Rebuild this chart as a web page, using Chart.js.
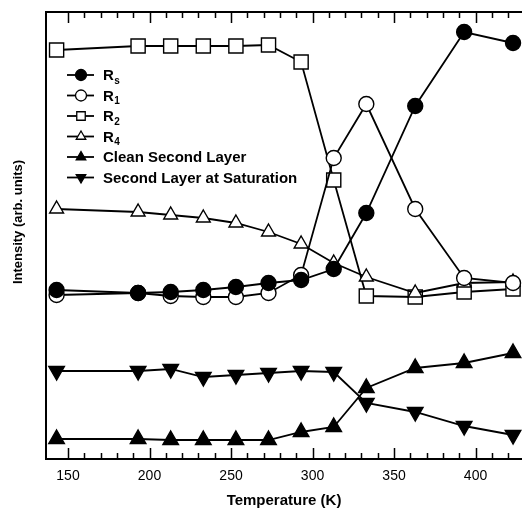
<!DOCTYPE html>
<html>
<head>
<meta charset="utf-8">
<script src="https://cdn.jsdelivr.net/npm/chart.js@4.4.1/dist/chart.umd.min.js"></script>
<style>
  html, body { margin: 0; padding: 0; background: #fff; }
  #wrap { width: 522px; height: 510px; }
</style>
</head>
<body>
<div id="wrap"><canvas id="chart" width="522" height="510"></canvas></div>
<script>
// temperatures (K) where the spectra were taken
const temps = [143, 193, 213, 233, 253, 273, 293, 313, 333, 363, 393, 423];

// intensities, arbitrary units
const rS = [169, 166, 167, 169, 172, 176, 179, 190, 246, 353, 427, 416];
const r1 = [164, 166, 163, 162, 162, 166, 184, 301, 355, 250, 181, 176];
const r2 = [409, 413, 413, 413, 413, 414, 397, 279, 163, 162, 167, 170];
const r4 = [250, 247, 244, 241, 236, 227, 215, 196, 182, 166, 176, 177];
const cleanLayer = [20, 20, 19, 19, 19, 19, 27, 32, 71, 91, 96, 106];
const saturated = [88, 88, 90, 82, 84, 86, 88, 87, 56, 47, 33, 24];

const labels = ['R_s', 'R_1', 'R_2', 'R_4', 'Clean Second Layer', 'Second Layer at Saturation'];
const xTicks = [150, 200, 250, 300, 350, 400];

const FONT = '"Liberation Sans", Arial, Helvetica, sans-serif';

function pts(values) {
  return values.map((v, i) => ({ x: temps[i], y: v }));
}

function series(label, values, style, filled, size, rotation) {
  return {
    label,
    data: pts(values),
    borderColor: '#000',
    borderWidth: 1.8,
    pointStyle: style,
    pointRotation: rotation || 0,
    pointRadius: size,
    pointBorderWidth: 1.4,
    pointBorderColor: '#000',
    pointBackgroundColor: filled ? '#000' : '#fff',
    tension: 0,
    fill: false,
    clip: false,
  };
}

// lower index is drawn on top
const datasets = [
  series(labels[0], rS, 'circle', true, 7.5),
  series(labels[1], r1, 'circle', false, 7.5),
  series(labels[3], r4, 'triangle', false, 8),
  series(labels[2], r2, 'rect', false, 10),
  series(labels[4], cleanLayer, 'triangle', true, 9),
  series(labels[5], saturated, 'triangle', true, 9, 180),
];

// legend order as in the figure
const legendOrder = [0, 1, 3, 2, 4, 5];

function drawLabel(ctx, text, x, y) {
  const parts = text.split('_');
  ctx.fillStyle = '#000';
  ctx.textBaseline = 'middle';
  ctx.textAlign = 'left';
  ctx.font = 'bold 15px ' + FONT;
  ctx.fillText(parts[0], x, y);
  if (parts[1]) {
    const w = ctx.measureText(parts[0]).width;
    ctx.font = 'bold 10px ' + FONT;
    ctx.fillText(parts[1], x + w + 0.5, y + 5);
  }
}

const framePlugin = {
  id: 'frame',
  afterDraw(chart) {
    const { ctx, chartArea } = chart;
    const xs = chart.scales.x;
    ctx.save();
    ctx.strokeStyle = '#000';
    ctx.lineWidth = 2;

    // top border
    ctx.beginPath();
    ctx.moveTo(chartArea.left, chartArea.top);
    ctx.lineTo(chartArea.right, chartArea.top);
    ctx.stroke();

    // inward ticks, top and bottom
    ctx.lineWidth = 1.5;
    for (let t = 150; t <= 420; t += 10) {
      const px = Math.round(xs.getPixelForValue(t)) + 0.5;
      const len = t % 50 === 0 ? 11 : 6;
      ctx.beginPath();
      ctx.moveTo(px, chartArea.bottom);
      ctx.lineTo(px, chartArea.bottom - len);
      ctx.moveTo(px, chartArea.top);
      ctx.lineTo(px, chartArea.top + len);
      ctx.stroke();
    }

    // y axis title
    ctx.save();
    ctx.translate(18, 222);
    ctx.rotate(-Math.PI / 2);
    ctx.font = 'bold 13px ' + FONT;
    ctx.fillStyle = '#000';
    ctx.textAlign = 'center';
    ctx.textBaseline = 'middle';
    ctx.fillText('Intensity (arb. units)', 0, 0);
    ctx.restore();

    // legend
    legendOrder.forEach((di, row) => {
      const ds = chart.data.datasets[di];
      const y = 75 + row * 20.5;
      ctx.strokeStyle = '#000';
      ctx.lineWidth = 1.8;
      ctx.beginPath();
      ctx.moveTo(67, y);
      ctx.lineTo(94, y);
      ctx.stroke();
      ctx.fillStyle = ds.pointBackgroundColor;
      ctx.lineWidth = 1.3;
      Chart.helpers.drawPoint(ctx, {
        pointStyle: ds.pointStyle,
        rotation: ds.pointRotation,
        radius: ds.pointStyle === 'rect' ? 6 : 5.5,
        borderWidth: 1.3,
      }, 81, y);
      drawLabel(ctx, ds.label, 103, y + 1);
    });
    ctx.restore();
  },
};

new Chart(document.getElementById('chart'), {
  type: 'line',
  data: { datasets },
  options: {
    responsive: false,
    animation: false,
    devicePixelRatio: 1,
    layout: { autoPadding: false, padding: { top: 12, right: 0, left: 0, bottom: 0 } },
    plugins: {
      legend: { display: false },
      tooltip: { enabled: false },
    },
    scales: {
      x: {
        type: 'linear',
        min: 136.5,
        max: 428.5,
        afterBuildTicks: (scale) => { scale.ticks = xTicks.map((v) => ({ value: v })); },
        afterFit: (scale) => {
          scale.height = 51;
          scale.paddingLeft = 0;
          scale.paddingRight = 0;
        },
        grid: { display: false, drawTicks: false },
        border: { display: true, color: '#000', width: 2 },
        ticks: {
          color: '#000',
          padding: 9,
          maxRotation: 0,
          font: { family: FONT, size: 14 },
        },
        title: {
          display: true,
          text: 'Temperature (K)',
          color: '#000',
          padding: { top: 7, bottom: 0 },
          font: { family: FONT, size: 15, weight: 'bold' },
        },
      },
      y: {
        min: 0,
        max: 447,
        afterFit: (scale) => { scale.width = 46; },
        grid: { display: false, drawTicks: false },
        border: { display: true, color: '#000', width: 2 },
        ticks: { display: false },
      },
    },
  },
  plugins: [framePlugin],
});
</script>
</body>
</html>
